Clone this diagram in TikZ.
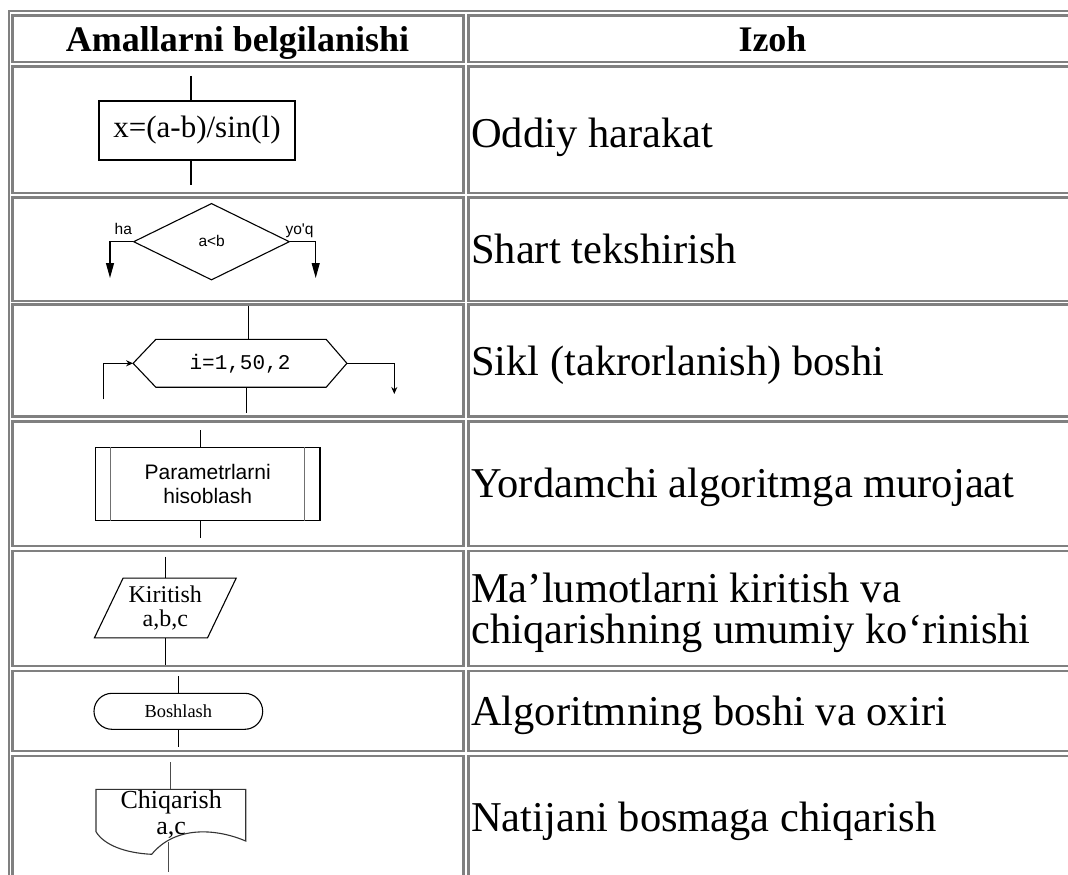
\documentclass[tikz,border=0pt]{standalone}
\usepackage{fontspec}
\setmainfont{Liberation Serif}
\newfontfamily\arialfont{Liberation Sans}
\newfontfamily\monofont{Liberation Mono}
\usetikzlibrary{shapes.geometric,arrows.meta}
\definecolor{tablegray}{HTML}{808080}
\definecolor{subgray}{HTML}{707070}

\begin{document}
\begin{tikzpicture}[x=1pt,y=-1pt,
  outerframe/.style={draw=tablegray,line width=2pt},
  cellframe/.style={draw=tablegray,line width=2.5pt},
  flow/.style={draw=black,line width=1.1pt,inner sep=0pt},
  wire/.style={draw=black,line width=1.1pt},
  bigtip/.style={-{Triangle[length=15pt,width=8pt]}},
  smalltip/.style={-{Stealth[length=7pt,width=6pt]}},
  head/.style={anchor=base,inner sep=0pt,font=\fontsize{36}{40}\bfseries\selectfont},
  desc/.style={anchor=base west,inner sep=0pt,font=\fontsize{42.5}{46}\selectfont},
  smallsans/.style={anchor=base,inner sep=0pt,font=\arialfont\fontsize{15.5}{17}\selectfont}
]
\useasboundingbox (0,0) rectangle (1068,875);
\clip (0,0) rectangle (1068,875);

% table frame
\draw[outerframe] (9,900) -- (9,11) -- (1100,11);
% left column cells
\foreach \t/\b in {15.5/62, 66.5/193, 197.5/301, 304.5/416.5, 421.5/546, 551/666, 671/751, 756/900}
  \draw[cellframe] (12.5,\t) rectangle (463.5,\b);
% right column cells
\foreach \t/\b in {15.5/62, 66.5/193, 197.5/301, 304.5/416.5, 421.5/546, 551/666, 671/751, 756/900}
  \draw[cellframe] (468.5,\t) rectangle (1090,\b);

% header
\node[head] (h-left) at (237.5,51.7) {Amallarni belgilanishi};
\node[head] (h-right) at (772.5,51.7) {Izoh};

% descriptions
\node[desc] (d1) at (471,147) {Oddiy harakat};
\node[desc] (d2) at (471,263) {Shart tekshirish};
\node[desc] (d3) at (471,375) {Sikl (takrorlanish) boshi};
\node[desc] (d4) at (471,497) {Yordamchi algoritmga murojaat};
\node[desc] (d5a) at (471,602) {Ma’lumotlarni kiritish va};
\node[desc] (d5b) at (471,643) {chiqarishning umumiy ko‘rinishi};
\node[desc] (d6) at (471,725) {Algoritmning boshi va oxiri};
\node[desc] (d7) at (471,831) {Natijani bosmaga chiqarish};

% process block
\node[flow,draw,minimum width=196pt,minimum height=59pt,font=\fontsize{31}{31}\selectfont] (proc) at (197,130.5) {x=(a-b)/sin(l)};
\coordinate (proc-in) at (191,76);
\coordinate (proc-out) at (191,185);
\draw[wire] (proc-in) -- (proc-in |- proc.north);
\draw[wire] (proc.south -| proc-out) -- (proc-out);

% condition block
\node[flow,draw,diamond,minimum width=156pt,minimum height=76.7pt] (cond) at (211.5,241.7) {};
\node[smallsans] (cond-t) at (211.7,246.7) {a<b};
\coordinate (yes-end) at (110,278);
\coordinate (no-end) at (315.7,278);
\draw[wire,bigtip] (cond.west) -| (yes-end);
\draw[wire,bigtip] (cond.east) -| (no-end);
\node[smallsans] (yes-l) at (123.3,234.3) {ha};
\node[smallsans] (no-l) at (299.5,234.3) {yo'q};

% loop header block
\node[inner sep=0pt,minimum width=213.4pt,minimum height=47.4pt,font=\monofont\fontsize{21}{21}\selectfont] (loop) at (240,363.3) {i=1,50,2};
\draw[flow] (loop.west) -- ([xshift=22.7pt]loop.north west) -- ([xshift=-20.7pt]loop.north east)
  -- (loop.east) -- ([xshift=-20.7pt]loop.south east) -- ([xshift=22.7pt]loop.south west) -- cycle;
\coordinate (loop-in) at (248.3,306);
\coordinate (loop-out) at (246.7,413.3);
\coordinate (loop-back) at (103.3,399.3);
\coordinate (loop-exit) at (394.3,394);
\draw[wire] (loop-in) -- (loop-in |- loop.north);
\draw[wire] (loop.south -| loop-out) -- (loop-out);
\draw[wire,smalltip] (loop-back) |- (loop.west);
\draw[wire,smalltip] (loop.east) -| (loop-exit);

% subroutine call block
\node[flow,draw,minimum width=224.5pt,minimum height=73.4pt,align=center,
  font=\arialfont\fontsize{21}{24}\selectfont] (sub) at (207.75,484) {Parametrlarni\\hisoblash};
\draw[draw=subgray,line width=1pt] ([xshift=15.2pt]sub.north west) -- ([xshift=15.2pt]sub.south west);
\draw[draw=subgray,line width=1pt] ([xshift=-16pt]sub.north east) -- ([xshift=-16pt]sub.south east);
\coordinate (sub-in) at (200.7,430);
\coordinate (sub-out) at (200.7,538);
\draw[wire] (sub-in) -- (sub-in |- sub.north);
\draw[wire] (sub.south -| sub-out) -- (sub-out);

% input/output block
\node[inner sep=0pt,minimum width=112.7pt,minimum height=59.4pt,align=center,
  font=\fontsize{24}{24.6}\selectfont] (io) at (165.3,608) {Kiritish\\a,b,c};
\draw[flow] ([xshift=14.35pt]io.north west) -- ([xshift=14.35pt]io.north east)
  -- ([xshift=-14.35pt]io.south east) -- ([xshift=-14.35pt]io.south west) -- cycle;
\coordinate (io-in) at (165.7,556.7);
\coordinate (io-out) at (165.7,665);
\draw[wire] (io-in) -- (io-in |- io.north);
\draw[wire] (io.south -| io-out) -- (io-out);

% terminal block
\node[flow,draw,rounded corners=18pt,minimum width=168.7pt,minimum height=36pt,
  font=\fontsize{18.4}{20}\selectfont] (term) at (178.35,711.3) {Boshlash};
\coordinate (term-in) at (178.3,676);
\coordinate (term-out) at (178.3,746.7);
\draw[wire] (term-in) -- (term-in |- term.north);
\draw[wire] (term.south -| term-out) -- (term-out);

% document (print) block
\draw[draw=black!80,line width=1.1pt] (96,789.3) -- (245.7,789.3) -- (245.7,841)
  .. controls (215,828) and (175,826) .. (151.7,854.3)
  .. controls (125,853) and (104,845) .. (96,831.7) -- cycle;
\node[inner sep=0pt,align=center,font=\fontsize{26}{26.7}\selectfont] (doc) at (171.2,814.6) {Chiqarish\\a,c};
\coordinate (doc-top) at (170.7,789.3);
\coordinate (doc-in) at (170.7,762);
\coordinate (doc-wave) at (168.3,841.7);
\coordinate (doc-out) at (168.3,871.7);
\draw[draw=black!70,line width=1.1pt] (doc-in) -- (doc-top);
\draw[draw=black!70,line width=1.1pt] (doc-wave) -- (doc-out);
\end{tikzpicture}
\end{document}
